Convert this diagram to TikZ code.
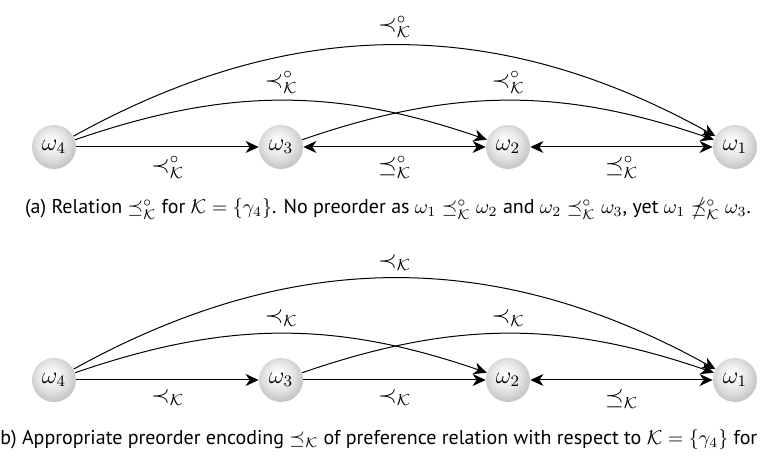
\documentclass[tikz,border=0pt]{standalone}
\usepackage{amsmath,amssymb}
\usepackage{fontspec}
\setmainfont{PT Sans}
\usetikzlibrary{arrows.meta,shadings}
\pgfdeclareradialshading{worldball}{\pgfpoint{-4bp}{7bp}}{%
  color(0bp)=(white); color(6bp)=(gray!5); color(17bp)=(gray!22);
  color(27bp)=(gray!45); color(31bp)=(gray!60); color(50bp)=(gray!65)}
\begin{document}
\begin{tikzpicture}[x=0.5pt,y=0.5pt,
  world/.style={circle,shading=worldball,minimum size=22pt,inner sep=0pt,font=\large},
  lbl/.style={font=\large},
  rel/.style={-{Stealth[length=6.5pt,width=6pt,inset=2pt]},line width=0.5pt},
  birel/.style={{Stealth[length=6.5pt,width=6pt,inset=2pt]}-{Stealth[length=6.5pt,width=6pt,inset=2pt]},line width=0.5pt}]
\useasboundingbox (0,0) rectangle (777,464);

% (a) Relation for K = {gamma_4}
\node[world] (a4) at (54,317) {$\omega_4$};
\node[world] (a3) at (281,317) {$\omega_3$};
\node[world] (a2) at (508,317) {$\omega_2$};
\node[world] (a1) at (735,317) {$\omega_1$};

\draw[rel] (a4) -- node[lbl,below=1pt] {$\prec^{\circ}_{\mathcal{K}}$} (a3);
\draw[birel] (a3) -- node[lbl,below=1pt] {$\preceq^{\circ}_{\mathcal{K}}$} (a2);
\draw[birel] (a2) -- node[lbl,below=1pt] {$\preceq^{\circ}_{\mathcal{K}}$} (a1);
\draw[rel] (a4) to[bend left=19] node[lbl,above=0pt] {$\prec^{\circ}_{\mathcal{K}}$} (a2);
\draw[rel] (a3) to[bend left=19] node[lbl,above=0pt] {$\prec^{\circ}_{\mathcal{K}}$} (a1);
\draw[rel] (a4) to[bend left=29] node[lbl,above=0pt] {$\prec^{\circ}_{\mathcal{K}}$} (a1);

\node (capa) at (388,255) {(a) Relation $\preceq^{\circ}_{\mathcal{K}}$ for $\mathcal{K}=\{\gamma_4\}$. No preorder as $\omega_1\preceq^{\circ}_{\mathcal{K}}\omega_2$ and $\omega_2\preceq^{\circ}_{\mathcal{K}}\omega_3$, yet $\omega_1\npreceq^{\circ}_{\mathcal{K}}\omega_3$.};

% (b) Appropriate preorder
\node[world] (b4) at (54,84) {$\omega_4$};
\node[world] (b3) at (281,84) {$\omega_3$};
\node[world] (b2) at (508,84) {$\omega_2$};
\node[world] (b1) at (735,84) {$\omega_1$};

\draw[rel] (b4) -- node[lbl,below=1pt] {$\prec_{\mathcal{K}}$} (b3);
\draw[rel] (b3) -- node[lbl,below=1pt] {$\prec_{\mathcal{K}}$} (b2);
\draw[birel] (b2) -- node[lbl,below=1pt] {$\preceq_{\mathcal{K}}$} (b1);
\draw[rel] (b4) to[bend left=19] node[lbl,above=0pt] {$\prec_{\mathcal{K}}$} (b2);
\draw[rel] (b3) to[bend left=19] node[lbl,above=0pt] {$\prec_{\mathcal{K}}$} (b1);
\draw[rel] (b4) to[bend left=29] node[lbl,above=0pt] {$\prec_{\mathcal{K}}$} (b1);

\node[anchor=west,inner sep=0pt] (capb) at (0,24) {b) Appropriate preorder encoding $\preceq_{\mathcal{K}}$ of preference relation with respect to $\mathcal{K}=\{\gamma_4\}$ for};
\end{tikzpicture}
\end{document}
